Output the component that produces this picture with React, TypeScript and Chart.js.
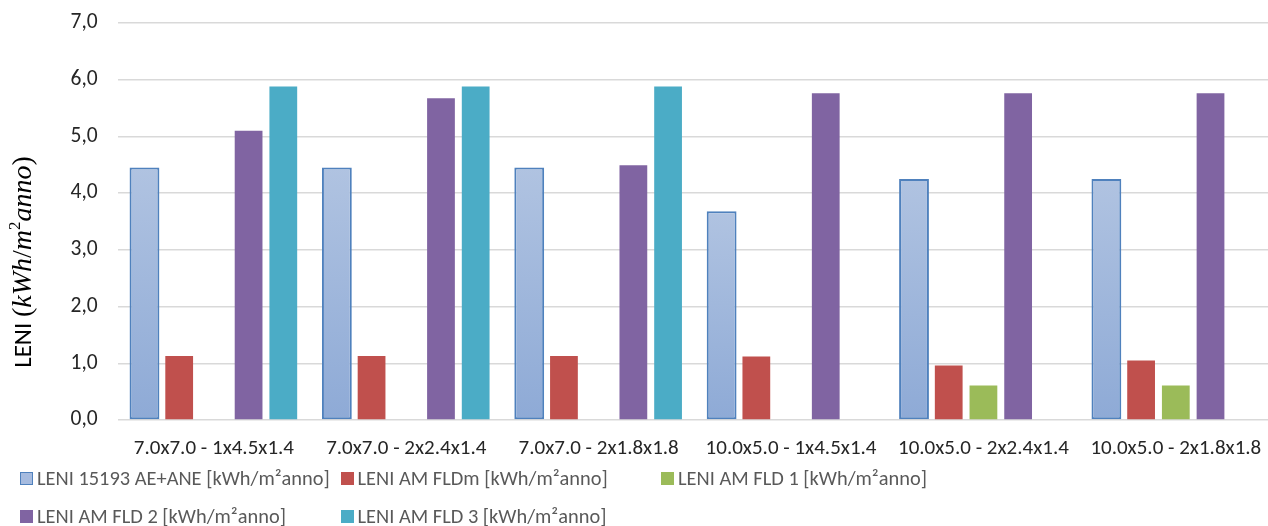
import React, { useEffect, useRef } from "react";
import { Chart, registerables } from "chart.js";
Chart.register(...registerables);

const categories = [
  "7.0x7.0 - 1x4.5x1.4",
  "7.0x7.0 - 2x2.4x1.4",
  "7.0x7.0 - 2x1.8x1.8",
  "10.0x5.0 - 1x4.5x1.4",
  "10.0x5.0 - 2x2.4x1.4",
  "10.0x5.0 - 2x1.8x1.8",
];
const seriesLabels = [
  "LENI 15193 AE+ANE [kWh/m²anno]",
  "LENI AM FLDm [kWh/m²anno]",
  "LENI AM FLD 1 [kWh/m²anno]",
  "LENI AM FLD 2 [kWh/m²anno]",
  "LENI AM FLD 3 [kWh/m²anno]",
];
const leni15193 = [4.45, 4.45, 4.45, 3.68, 4.25, 4.25];
const leniFLDm = [1.13, 1.13, 1.13, 1.12, 0.96, 1.05];
const leniFLD1 = [null, null, null, null, 0.61, 0.61];
const leniFLD2 = [5.1, 5.67, 4.49, 5.76, 5.76, 5.76];
const leniFLD3 = [5.88, 5.88, 5.88, null, null, null];
const yTicks = [0, 1, 2, 3, 4, 5, 6, 7];

const seriesColors = ["#9fb6dc", "#c0504d", "#9bbb59", "#8064a2", "#4bacc6"];

const FONT = "Carlito, Lato, 'Open Sans', sans-serif";
const SHIFT = 10; // canvas is drawn 10px above the page top

const yTitlePlugin = {
  id: "yTitle",
  afterDraw(chart: any) {
    const ctx = chart.ctx as CanvasRenderingContext2D;
    const serif = "'Liberation Serif', 'DejaVu Serif', serif";
    const parts = [
      { t: "LENI ", f: `25px ${FONT}`, dy: 0 },
      { t: "(", f: `28px ${serif}`, dy: 0 },
      { t: "kWh", f: `italic 28px ${serif}`, dy: 0 },
      { t: "/", f: `28px ${serif}`, dy: 0 },
      { t: "m", f: `italic 28px ${serif}`, dy: 0 },
      { t: "2", f: `17px ${serif}`, dy: -11 },
      { t: "anno", f: `italic 28px ${serif}`, dy: 0 },
      { t: ")", f: `28px ${serif}`, dy: 0 },
    ];
    ctx.save();
    let total = 0;
    const widths = parts.map((p) => {
      ctx.font = p.f;
      const w = ctx.measureText(p.t).width;
      total += w;
      return w;
    });
    ctx.translate(31, 262 + SHIFT);
    ctx.rotate(-Math.PI / 2);
    ctx.fillStyle = "#000000";
    ctx.textBaseline = "alphabetic";
    ctx.textAlign = "left";
    let x = -total / 2;
    parts.forEach((p, i) => {
      ctx.font = p.f;
      ctx.fillText(p.t, x, p.dy);
      x += widths[i];
    });
    ctx.restore();
  },
};

export default function App() {
  const ref = useRef<HTMLCanvasElement>(null);

  useEffect(() => {
    const canvas = ref.current;
    if (!canvas) return;

    const blueFill = (c: any) => {
      const chart = c.chart;
      const y = chart.scales && chart.scales.y;
      const v = c.raw;
      if (!y || v == null || !chart.chartArea) return seriesColors[0];
      const top = y.getPixelForValue(v);
      const bottom = y.getPixelForValue(0);
      const g = chart.ctx.createLinearGradient(0, top, 0, bottom);
      g.addColorStop(0, "#b0c3e1");
      g.addColorStop(1, "#8eaad6");
      return g;
    };

    const data = [leni15193, leniFLDm, leniFLD1, leniFLD2, leniFLD3];

    const chart = new Chart(canvas, {
      type: "bar",
      data: {
        labels: categories,
        datasets: data.map((d, i) => ({
          label: seriesLabels[i],
          data: d,
          backgroundColor: i === 0 ? blueFill : seriesColors[i],
          borderColor: i === 0 ? "#4f81bd" : seriesColors[i],
          borderWidth: i === 0 ? 2 : 0,
          borderSkipped: i === 0 ? false : "start",
          barPercentage: i === 0 ? 0.86 : 0.8,
          categoryPercentage: 0.902,
        })) as any,
      },
      options: {
        responsive: false,
        animation: false,
        layout: { padding: { top: 0, right: 0, bottom: 0, left: 0 } },
        plugins: {
          legend: { display: false },
          tooltip: { enabled: false },
          title: { display: false },
        },
        scales: {
          x: {
            grid: { display: false },
            border: { display: false },
            ticks: {
              font: { family: FONT, size: 21 },
              color: "#262626",
              padding: 8,
              maxRotation: 0,
              autoSkip: false,
            },
            afterFit: (s: any) => {
              s.height = 106;
            },
          },
          y: {
            min: 0,
            max: 7,
            afterBuildTicks: (s: any) => {
              s.ticks = yTicks.map((v) => ({ value: v }));
            },
            ticks: {
              callback: (v: any) => Number(v).toFixed(1).replace(".", ","),
              padding: 20,
              font: { family: FONT, size: 21.5 },
              color: "#262626",
            },
            grid: { color: "#d9d9d9", lineWidth: 1.5, drawTicks: false },
            border: { display: false },
            afterFit: (s: any) => {
              s.width = 117.7;
            },
          },
        },
      },
      plugins: [yTitlePlugin],
    });
    return () => chart.destroy();
  }, []);

  const legendItem = (i: number) => (
    <div key={i} style={{ display: "flex", alignItems: "center", height: 38 }}>
      <span
        style={{
          display: "inline-block",
          width: 13,
          height: 13,
          boxSizing: "border-box",
          background: i === 0 ? "#a6bbdf" : seriesColors[i],
          border: i === 0 ? "1.5px solid #4f81bd" : "none",
          marginRight: 4,
        }}
      />
      <span style={{ whiteSpace: "nowrap" }}>{seriesLabels[i]}</span>
    </div>
  );

  return (
    <div
      style={{
        position: "fixed",
        left: 0,
        top: 0,
        width: 1268,
        height: 526,
        overflow: "hidden",
        background: "#ffffff",
      }}
    >
      <canvas
        ref={ref}
        width={1272}
        height={526 + SHIFT}
        style={{ display: "block", position: "absolute", left: 0, top: -SHIFT }}
      />
      <div
        style={{
          position: "absolute",
          left: 20,
          top: 459,
          display: "grid",
          gridTemplateColumns: "320.5px 320.5px 320.5px",
          fontFamily: FONT,
          fontSize: 20.4,
          color: "#595959",
        }}
      >
        {[0, 1, 2, 3, 4].map((i) => legendItem(i))}
      </div>
    </div>
  );
}
